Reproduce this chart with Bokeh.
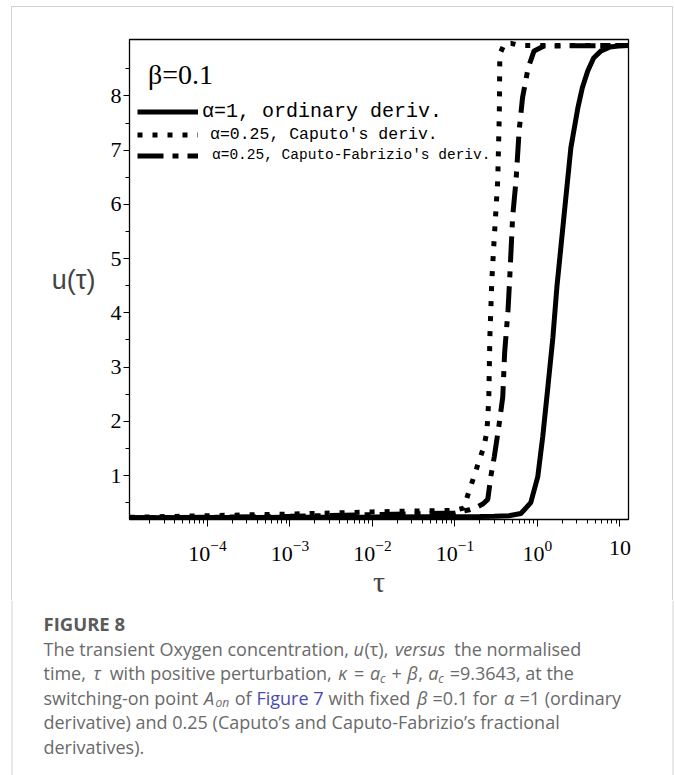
from bokeh.plotting import figure
from bokeh.models import (Range1d, FixedTicker, LogTickFormatter, Legend, LegendItem,
                          Label, ColumnDataSource, Spacer)
from bokeh.layouts import column, row
from bokeh.core.properties import value
from bokeh.embed import file_html
from bokeh.resources import INLINE

# ---------------- data ----------------
tau_ordinary = [1.14e-5, 1e-4, 1e-3, 1e-2, 0.05, 0.1, 0.2, 0.3, 0.45, 0.63, 0.83, 1.01,
                1.16, 1.34, 1.54, 1.72, 2.09, 2.54, 3.09, 3.5, 4.07, 4.8, 5.9, 7.5, 9.6, 12.7]
u_ordinary = [0.22, 0.225, 0.23, 0.235, 0.24, 0.24, 0.245, 0.25, 0.26, 0.30, 0.50, 0.98,
              1.72, 2.64, 3.55, 4.47, 5.76, 7.04, 7.78, 8.15, 8.46, 8.70, 8.83, 8.90, 8.92, 8.93]

tau_caputo = [1.14e-5, 1e-4, 1e-3, 1e-2, 0.1, 0.128, 0.148, 0.17, 0.195, 0.224, 0.244,
              0.257, 0.265, 0.28, 0.30, 0.33, 0.345, 0.35, 0.40, 0.48, 0.6, 1.0, 12.7]
u_caputo = [0.23, 0.26, 0.29, 0.33, 0.36, 0.40, 0.71, 0.98, 1.26, 1.53, 1.81,
            2.40, 3.55, 4.60, 5.40, 6.44, 7.67, 8.77, 8.97, 8.97, 8.93, 8.93, 8.93]

tau_cf = [1.14e-5, 1e-4, 1e-3, 1e-2, 0.1, 0.15, 0.19, 0.22, 0.25, 0.272, 0.30, 0.34,
          0.38, 0.40, 0.44, 0.46, 0.50, 0.55, 0.60, 0.66, 0.77, 0.91, 1.2, 12.7]
u_cf = [0.22, 0.23, 0.25, 0.28, 0.31, 0.37, 0.43, 0.48, 0.56, 0.98, 1.35, 1.90,
        2.45, 3.26, 4.05, 4.60, 5.76, 6.44, 7.36, 7.97, 8.51, 8.83, 8.92, 8.93]

legend_labels = ["\u03b1=1, ordinary deriv.",
                 "\u03b1=0.25, Caputo's deriv.",
                 "\u03b1=0.25, Caputo-Fabrizio's deriv."]
beta_text = "\u03b2=0.1"
x_major_ticks = [1e-4, 1e-3, 1e-2, 1e-1, 1, 10]
y_major_ticks = [1, 2, 3, 4, 5, 6, 7, 8]
y_minor_ticks = [0.5, 1.5, 2.5, 3.5, 4.5, 5.5, 6.5, 7.5, 8.5]
x_minor_ticks = [m * 10.0 ** e for e in range(-5, 2) for m in range(2, 10)]

SERIF = "Liberation Serif"
BORDER = "#d2d2d2"

# ---------------- main plot ----------------
p = figure(width=660, height=593, x_axis_type="log",
           x_range=Range1d(1.135e-5, 12.7), y_range=Range1d(0.19, 9.04),
           output_backend="svg", toolbar_location=None,
           min_border_left=117, min_border_right=44, min_border_top=32, min_border_bottom=80)
p.frame_align = False
p.xgrid.visible = False
p.ygrid.visible = False
p.outline_line_color = "black"
p.outline_line_width = 1.3
p.background_fill_color = "white"
p.border_fill_color = "white"

r1 = p.line(tau_ordinary, u_ordinary, line_color="black", line_width=5)
r2 = p.line(tau_caputo, u_caputo, line_color="black", line_width=5, line_dash="5 10")
r3 = p.line(tau_cf, u_cf, line_color="black", line_width=5, line_dash="26 9 6 9")

xa = p.xaxis[0]
xa.ticker = FixedTicker(ticks=x_major_ticks, minor_ticks=x_minor_ticks)
xa.formatter = LogTickFormatter()
xa.major_label_overrides = {10: "10"}
xa.major_tick_in = 0
xa.major_tick_out = 7
xa.minor_tick_in = 0
xa.minor_tick_out = 4
xa.major_label_text_font = SERIF
xa.major_label_text_font_size = "22px"
xa.major_label_text_color = "black"
xa.major_label_standoff = 14
xa.axis_label = "\u03c4"
xa.axis_label_text_font = SERIF
xa.axis_label_text_font_size = "30px"
xa.axis_label_text_font_style = "normal"
xa.axis_label_standoff = 1
xa.axis_line_color = "black"

ya = p.yaxis[0]
ya.ticker = FixedTicker(ticks=y_major_ticks, minor_ticks=y_minor_ticks)
ya.major_tick_in = 0
ya.major_tick_out = 6
ya.minor_tick_in = 0
ya.minor_tick_out = 4
ya.major_label_text_font = SERIF
ya.major_label_text_font_size = "22px"
ya.major_label_text_color = "black"
ya.major_label_standoff = 2
ya.axis_label = "u(\u03c4)"
ya.axis_label_orientation = "horizontal"
ya.axis_label_text_font = "Liberation Sans"
ya.axis_label_text_font_size = "27px"
ya.axis_label_text_font_style = "normal"
ya.axis_label_standoff = 12
ya.axis_line_color = "black"

# one legend per row, so each row keeps its own text size as in the original
legend_rows = [(r1, 396.5, "20px", 4), (r2, 374.5, "16.5px", 12), (r3, 353.5, "14.5px", 14)]
for (rend, ypos, fsize, standoff), lab in zip(legend_rows, legend_labels):
    lg = Legend(items=[LegendItem(label=lab, renderers=[rend])],
                location=(8, ypos), padding=0, margin=0, spacing=0,
                glyph_width=61, glyph_height=21, label_height=21, label_standoff=standoff,
                label_text_font="Liberation Mono", label_text_font_size=fsize,
                label_text_color="black", background_fill_alpha=0, border_line_color=None)
    p.add_layout(lg)

p.add_layout(Label(x=1.9e-5, y=8.4, text=beta_text, text_font=SERIF,
                   text_font_size="28px", text_baseline="middle", text_color="black"))

# ---------------- caption ----------------
cap = figure(width=675, height=175, x_range=Range1d(0, 675), y_range=Range1d(175, 0),
             output_backend="svg", toolbar_location=None, min_border=0,
             min_border_left=0, min_border_right=0, min_border_top=0, min_border_bottom=0,
             x_axis_location=None, y_axis_location=None)
cap.frame_align = False
cap.xgrid.visible = False
cap.ygrid.visible = False
cap.outline_line_color = None
cap.border_fill_color = "white"
cap.multi_line(xs=[[11.5, 11.5], [672.5, 672.5]], ys=[[0, 175], [0, 175]],
               line_color=BORDER, line_width=1)

CAP_FONT = "Open Sans"
GREY = "#6a6a6a"
BLUE = "#4a4ab0"
FS = 18
SUB = 12

# approximate Open Sans advance widths (per 1000 em) for laying segments side by side
ADV = {" ": 260, "(": 296, ")": 296, ",": 245, "-": 322, ".": 266, "=": 572, "+": 572,
       "'": 177, "\u2019": 164, "A": 633, "C": 631, "F": 532, "O": 780, "T": 556,
       "a": 556, "b": 613, "c": 476, "d": 613, "e": 561, "f": 339, "g": 548, "h": 614,
       "i": 253, "j": 253, "k": 525, "l": 253, "m": 930, "n": 614, "o": 604, "p": 613,
       "q": 613, "r": 408, "s": 477, "t": 353, "u": 614, "v": 501, "w": 778, "x": 524,
       "y": 502, "z": 468, "\u03c4": 480, "\u03ba": 560, "\u03b2": 600, "\u03b1": 600}


def width(txt, size):
    return sum(ADV.get(ch, 572) for ch in txt) * size / 1000.0


SP = width(" ", FS)
# each entry: (text, style, colour, size, gap_after)
lines = [
    [("The transient Oxygen concentration,", "normal", GREY, FS, SP),
     ("u", "italic", GREY, FS, 0), ("(\u03c4),", "normal", GREY, FS, SP + 2),
     ("versus", "italic", GREY, FS, SP), ("the normalised", "normal", GREY, FS, 0)],
    [("time,", "normal", GREY, FS, SP + 3), ("\u03c4", "italic", GREY, FS, SP + 3),
     ("with positive perturbation,", "normal", GREY, FS, SP + 2),
     ("\u03ba", "italic", GREY, FS, SP + 1), ("=", "normal", GREY, FS, SP + 1),
     ("a", "italic", GREY, FS, 0), ("c", "italic", GREY, SUB, SP + 1),
     ("+", "normal", GREY, FS, SP + 1), ("\u03b2", "italic", GREY, FS, 0),
     (",", "normal", GREY, FS, SP + 1), ("a", "italic", GREY, FS, 0),
     ("c", "italic", GREY, SUB, SP + 1), ("=9.3643,", "normal", GREY, FS, SP),
     ("at the", "normal", GREY, FS, 0)],
    [("switching-on point", "normal", GREY, FS, SP + 1), ("A", "italic", GREY, FS, 0),
     ("on", "italic", GREY, SUB, SP), ("of", "normal", GREY, FS, SP),
     ("Figure 7", "normal", BLUE, FS, SP), ("with fixed", "normal", GREY, FS, SP + 2),
     ("\u03b2", "italic", GREY, FS, SP), ("=0.1 for", "normal", GREY, FS, SP + 2),
     ("\u03b1", "italic", GREY, FS, SP), ("=1 (ordinary", "normal", GREY, FS, 0)],
    [("derivative) and 0.25 (Caputo\u2019s and Caputo-Fabrizio\u2019s fractional",
      "normal", GREY, FS, 0)],
    [("derivatives).", "normal", GREY, FS, 0)],
]
line_y = [48, 72.5, 97, 121.5, 146]

segments = []
for ly, segs in zip(line_y, lines):
    x = 43.0
    for txt, style, colour, size, gap in segs:
        dy = 5 if size == SUB else 0
        segments.append((x, ly + dy, txt, style, colour, size))
        x += width(txt, size) + gap

for style in ["normal", "italic"]:
    for colour in [GREY, BLUE]:
        for size in [FS, SUB]:
            rows = [s for s in segments if s[3] == style and s[4] == colour and s[5] == size]
            if not rows:
                continue
            src = ColumnDataSource(dict(x=[r[0] for r in rows], y=[r[1] for r in rows],
                                        text=[r[2] for r in rows]))
            cap.text(x="x", y="y", text="text", source=src, text_font=value(CAP_FONT),
                     text_font_size=value(f"{size}px"), text_font_style=style,
                     text_color=colour, text_baseline="middle", text_align="left")

cap.text(x=[43], y=[23], text=["FIGURE 8"], text_font=value(CAP_FONT),
         text_font_size=value("18.5px"), text_font_style="bold", text_color="#5a5a5a",
         text_baseline="middle", text_align="left")

# ---------------- page border (thin grey frame of the figure panel) ----------------
bar = {"background-color": BORDER}
top = column(Spacer(width=675, height=6),
             row(Spacer(width=11, height=1), Spacer(width=662, height=1, styles=bar),
                 Spacer(width=2, height=1)))
middle = row(Spacer(width=11, height=593), Spacer(width=1, height=593, styles=bar), p,
             Spacer(width=1, height=593, styles=bar), Spacer(width=2, height=593))

layout = column(top, middle, cap)
open("out.html", "w").write(file_html(layout, INLINE))
